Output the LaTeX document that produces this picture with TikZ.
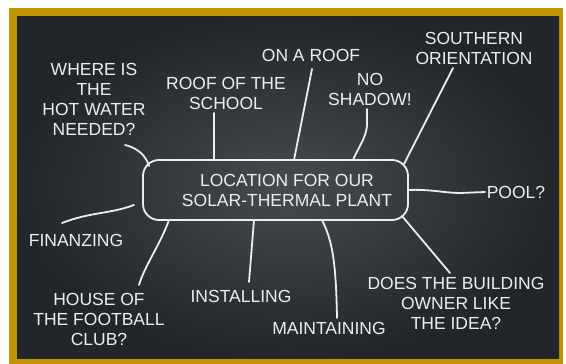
\documentclass[tikz,border=0pt]{standalone}
\usepackage{fontspec}
\setmainfont{Liberation Sans}
\definecolor{chalk}{HTML}{EDEDED}
\definecolor{gold}{HTML}{C29400}
\definecolor{boardin}{HTML}{484B4D}
\definecolor{boardout}{HTML}{232628}
\begin{document}
\begin{tikzpicture}[x=1pt,y=-1pt,
  lbl/.style={text=chalk, font=\fontsize{17.5}{20}\selectfont, align=center, inner sep=0pt},
  conn/.style={draw=chalk, line width=1.8pt, line cap=round, line join=round},
  chalkbox/.style={draw=chalk, line width=1.8pt, rounded corners=16pt, minimum width=265pt, minimum height=60pt, inner sep=0pt}
  ]
\useasboundingbox (0,0) rectangle (566,364);
\fill[white] (0,0) rectangle (566,364);
\fill[gold] (9,8) rectangle (563,364);
\shade[inner color=boardin, outer color=boardout] (17,16) rectangle (559,358);

% central box
\node[chalkbox] (box) at (275.5,190) {};
\node[lbl] (title) at (287,190.5) {LOCATION FOR OUR\\SOLAR-THERMAL PLANT};

% labels
\node[lbl] (hot) at (94,99) {WHERE IS\\THE\\HOT WATER\\NEEDED?};
\node[lbl] (school) at (226,93) {ROOF OF THE\\SCHOOL};
\node[lbl] (onroof) at (311,55) {ON A ROOF};
\node[lbl] (noshadow) at (370,89) {NO\\SHADOW!};
\node[lbl] (southern) at (474,48) {SOUTHERN\\ORIENTATION};
\node[lbl] (pool) at (516,192) {POOL?};
\node[lbl] (does) at (456,303) {DOES THE BUILDING\\OWNER LIKE\\THE IDEA?};
\node[lbl] (maint) at (329,328) {MAINTAINING};
\node[lbl] (install) at (241,296) {INSTALLING};
\node[lbl] (house) at (99,319) {HOUSE OF\\THE FOOTBALL\\CLUB?};
\node[lbl] (finan) at (76,240) {FINANZING};

% connector end points
\coordinate (hotA) at (125,145);     \coordinate (hotB) at (149,166);
\coordinate (schoolA) at (214,113);  \coordinate (schoolB) at (214,160);
\coordinate (roofA) at (312,69);     \coordinate (roofB) at (294,160);
\coordinate (shadowA) at (367,109);  \coordinate (shadowB) at (353,160);
\coordinate (southA) at (453,68);    \coordinate (southB) at (404,164);
\coordinate (poolA) at (485,192);    \coordinate (poolB) at (408,190);
\coordinate (doesA) at (450,273);    \coordinate (doesB) at (402,216);
\coordinate (maintA) at (337,318);   \coordinate (maintB) at (322,220);
\coordinate (installA) at (249,282); \coordinate (installB) at (254,220);
\coordinate (houseA) at (139,285);   \coordinate (houseB) at (169,220);
\coordinate (finanA) at (62,223);    \coordinate (finanB) at (134,205);

\draw[conn] (hotA) .. controls (138,148) and (146,156) .. (hotB);
\draw[conn] (schoolA) -- (schoolB);
\draw[conn] (roofA) -- (roofB);
\draw[conn] (shadowA) -- (367,126) .. controls (366,138) and (357,150) .. (shadowB);
\draw[conn] (southA) -- (southB);
\draw[conn] (poolB) .. controls (430,189) and (445,193) .. (460,193) -- (poolA);
\draw[conn] (doesB) -- (doesA);
\draw[conn] (maintB) .. controls (332,240) and (336,260) .. (maintA);
\draw[conn] (installB) -- (installA);
\draw[conn] (houseB) .. controls (160,245) and (145,265) .. (houseA);
\draw[conn] (finanA) .. controls (90,212) and (110,214) .. (finanB);
\end{tikzpicture}
\end{document}
